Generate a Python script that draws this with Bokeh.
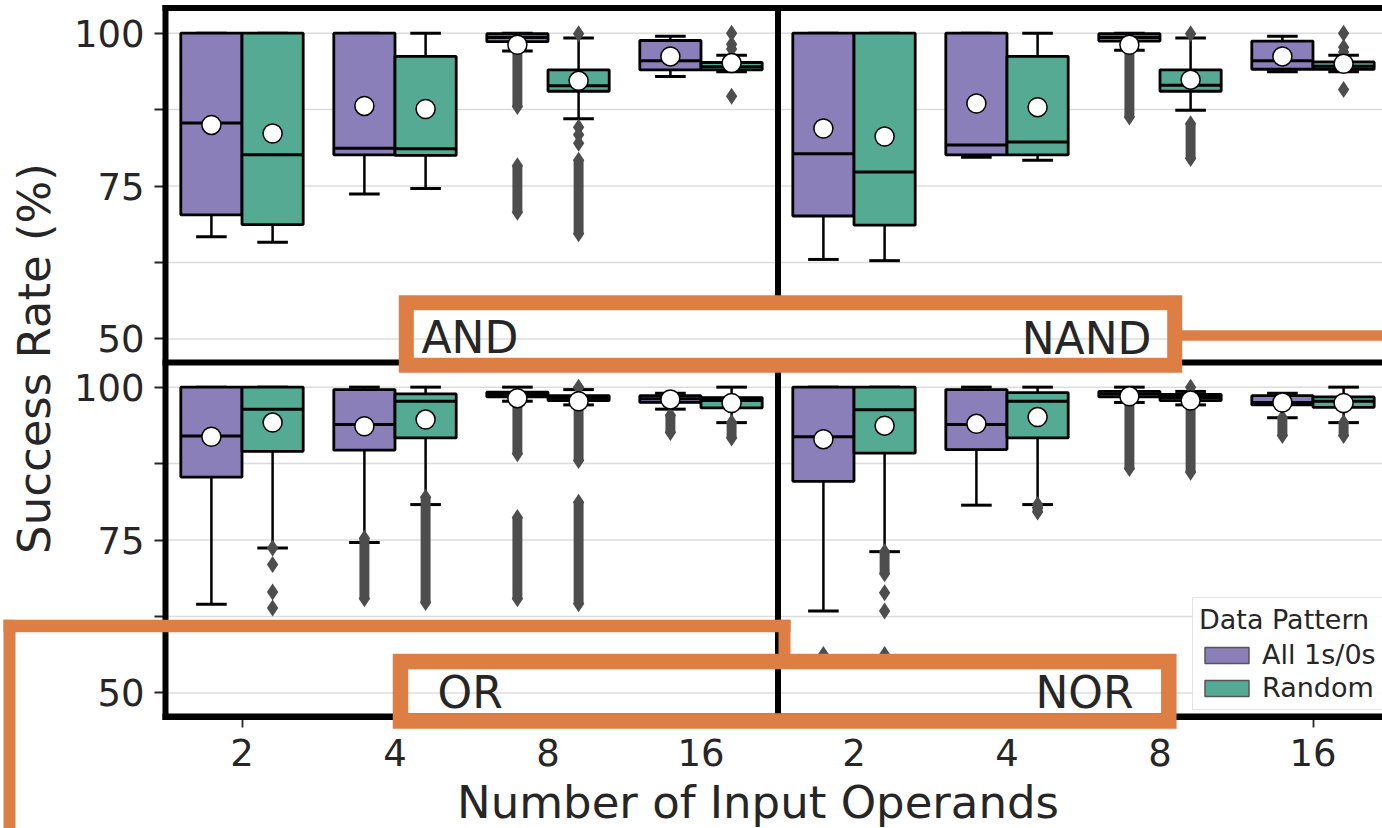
import math
from bokeh.plotting import figure
from bokeh.models import (Range1d, FixedTicker, BoxAnnotation, Legend, LegendItem,
                          ColumnDataSource, Label, LinearAxis)
from bokeh.transform import dodge
from bokeh.embed import file_html
from bokeh.resources import INLINE

# ---------------- data ----------------
operands = ["2", "4", "8", "16"]
patterns = ["All 1s/0s", "Random"]
gates = ["AND", "NAND", "OR", "NOR"]

# box statistics per operand count (q1, median, q3, whisker low/high, mean)
and_all = dict(q1=[70.3, 80.1, 98.6, 94.0], med=[85.3, 81.2, 99.3, 95.5], q3=[100, 100, 99.9, 98.8],
               lo=[66.7, 73.7, 97.1, 92.9], hi=[100, 100, 100, 99.5], mean=[85.0, 88.1, 98.1, 96.2])
and_rand = dict(q1=[68.7, 80.0, 90.5, 94.0], med=[80.1, 81.1, 91.4, 94.5], q3=[100, 96.2, 94.0, 95.2],
                lo=[65.8, 74.6, 86.0, 93.7], hi=[100, 100, 99.2, 96.4], mean=[83.6, 87.6, 92.2, 95.1])
nand_all = dict(q1=[70.1, 80.1, 98.7, 94.1], med=[80.3, 81.7, 99.3, 95.5], q3=[100, 100, 99.9, 98.7],
                lo=[63.0, 79.7, 97.2, 93.7], hi=[100, 100, 100, 99.5], mean=[84.4, 88.5, 98.1, 96.2])
nand_rand = dict(q1=[68.6, 80.1, 90.5, 94.1], med=[77.3, 82.2, 91.5, 94.6], q3=[100, 96.2, 94.0, 95.3],
                 lo=[62.8, 79.2, 87.4, 93.7], hi=[100, 100, 99.2, 96.4], mean=[83.1, 87.9, 92.4, 95.0])
or_all = dict(q1=[85.3, 89.7, 98.4, 97.5], med=[92.0, 93.9, 98.8, 98.1], q3=[100, 99.6, 99.2, 98.6],
              lo=[64.5, 74.6, 97.7, 96.4], hi=[100, 100, 100, 99.0], mean=[91.9, 93.6, 98.2, 98.0])
or_rand = dict(q1=[89.5, 91.7, 97.8, 96.6], med=[96.4, 97.7, 98.2, 97.8], q3=[100, 98.9, 98.6, 98.3],
               lo=[73.7, 80.8, 97.1, 94.2], hi=[100, 100, 99.6, 100], mean=[94.2, 94.7, 97.7, 97.4])
nor_all = dict(q1=[84.6, 89.8, 98.4, 97.1], med=[91.9, 93.9, 98.9, 97.5], q3=[100, 99.6, 99.3, 98.6],
               lo=[63.4, 80.7, 97.5, 95.0], hi=[100, 100, 100, 99.0], mean=[91.5, 94.0, 98.5, 97.5])
nor_rand = dict(q1=[89.2, 91.7, 97.8, 96.7], med=[96.3, 97.7, 98.3, 97.7], q3=[100, 99.1, 98.8, 98.4],
                lo=[73.1, 80.8, 97.1, 94.2], hi=[100, 100, 99.3, 100], mean=[93.7, 95.1, 97.8, 97.4])

# single outliers (operand, value) and dense outlier runs (operand, low, high)
and_all_pts = []
and_all_runs = [("8", 88.0, 97.0), ("8", 70.7, 78.3)]
and_rand_pts = [("8", 99.9), ("8", 84.6), ("8", 83.4), ("8", 82.0), ("16", 100.0), ("16", 98.2), ("16", 97.4), ("16", 89.7)]
and_rand_runs = [("8", 67.2, 79.2)]
nand_all_pts = []
nand_all_runs = [("8", 86.3, 97.0)]
nand_rand_pts = [("8", 99.9), ("16", 100.0), ("16", 97.7), ("16", 96.9), ("16", 90.8)]
nand_rand_runs = [("8", 79.5, 85.2)]
or_all_pts = []
or_all_runs = [("4", 65.4, 75.3), ("8", 89.1, 97.5), ("8", 65.4, 78.7), ("16", 92.6, 95.4)]
or_rand_pts = [("2", 73.7), ("2", 71.0), ("2", 66.5), ("2", 63.9), ("8", 100.0)]
or_rand_runs = [("4", 64.8, 82.0), ("8", 88.0, 97.0), ("8", 64.6, 81.2), ("16", 91.7, 94.2)]
nor_all_pts = [("2", 56.3)]
nor_all_runs = [("8", 86.7, 97.5), ("16", 92.1, 95.0)]
nor_rand_pts = [("2", 66.4), ("2", 63.4), ("2", 56.3), ("4", 80.3), ("8", 100.0)]
nor_rand_runs = [("2", 69.5, 73.1), ("4", 79.6, 80.8), ("8", 86.1, 97.0), ("16", 92.1, 94.2)]

series = [
    ("AND", "All 1s/0s", and_all, and_all_pts, and_all_runs),
    ("AND", "Random", and_rand, and_rand_pts, and_rand_runs),
    ("NAND", "All 1s/0s", nand_all, nand_all_pts, nand_all_runs),
    ("NAND", "Random", nand_rand, nand_rand_pts, nand_rand_runs),
    ("OR", "All 1s/0s", or_all, or_all_pts, or_all_runs),
    ("OR", "Random", or_rand, or_rand_pts, or_rand_runs),
    ("NOR", "All 1s/0s", nor_all, nor_all_pts, nor_all_runs),
    ("NOR", "Random", nor_rand, nor_rand_pts, nor_rand_runs),
]

y_ticks = [50, 75, 100]
y_minor = [62.5, 87.5]

# ---------------- style / layout ----------------
PURPLE = "#8a7fb8"
GREEN = "#55aa94"
OUTC = "#4d4d4d"
INK = "#262626"
ORANGE = "#dd7f45"
FONT = "DejaVu Sans"

W, H = 1382, 828                  # canvas occupies the whole window
PANEL_LEFT = 165                  # canvas x of the panels' left edge
PANEL_TOP = 8                     # canvas y of the upper panels' top edge
PANEL_BOTTOM = 716                # canvas y of the lower panels' bottom edge
PX_PER_CAT = 153.0
ylo, yhi = 46.15, 104.03          # per-panel y limits
yspan = yhi - ylo
PX_PER_Y = (PANEL_BOTTOM - PANEL_TOP) / (2 * yspan)
n_cat = len(operands)

x0 = -0.5 - PANEL_LEFT / PX_PER_CAT
x1 = x0 + W / PX_PER_CAT
y0 = ylo - (H - PANEL_BOTTOM) / PX_PER_Y
y1 = ylo + PANEL_BOTTOM / PX_PER_Y

p = figure(width=W, height=H, output_backend="svg", toolbar_location=None,
           x_range=Range1d(x0, x1), y_range=Range1d(y0, y1),
           min_border=0, min_border_left=0, min_border_right=0, min_border_top=0, min_border_bottom=0)
p.extra_x_ranges = {"right": Range1d(x0 - n_cat, x1 - n_cat), "px": Range1d(0, W)}
p.extra_y_ranges = {"top": Range1d(y0 - yspan, y1 - yspan), "py": Range1d(H, 0)}
p.outline_line_color = None
p.background_fill_color = "white"
p.border_fill_color = "white"
p.xaxis.visible = False
p.yaxis.visible = False
p.xgrid.visible = False
p.ygrid.visible = False

panel_ranges = {"AND": ("default", "top"), "NAND": ("right", "top"),
                "OR": ("default", "default"), "NOR": ("right", "default")}
pattern_style = {"All 1s/0s": (PURPLE, -0.2), "Random": (GREEN, 0.2)}

# grid lines inside the panels
grid_src = ColumnDataSource(dict(y=sorted(y_ticks + y_minor)))
for yr in ("default", "top"):
    p.segment(x0=-0.5, x1=2 * n_cat - 0.5, y0="y", y1="y", source=grid_src, line_color="#dcdcdc",
              line_width=1.5, y_range_name=yr, level="underlay")

# boxes, whiskers, caps, medians
box_renderers = {}
for gate, pat, st, pts, runs in series:
    xr, yr = panel_ranges[gate]
    color, off = pattern_style[pat]
    kw = dict(x_range_name=xr, y_range_name=yr)
    src = ColumnDataSource(dict(x=list(range(n_cat)), **st))
    c = dodge("x", off)
    p.segment(x0=c, x1=c, y0="q3", y1="hi", source=src, line_color="black", line_width=2.5, **kw)
    p.segment(x0=c, x1=c, y0="q1", y1="lo", source=src, line_color="black", line_width=2.5, **kw)
    for end in ("hi", "lo"):
        p.segment(x0=dodge("x", off - 0.1), x1=dodge("x", off + 0.1), y0=end, y1=end, source=src,
                  line_color="black", line_width=3, **kw)
    # box body (fill, thin grey edge as used by the legend) then the black box outline
    r = p.vbar(x=c, width=0.4, bottom="q1", top="q3", source=src, fill_color=color,
               line_color="#555555", line_width=1.5, **kw)
    box_renderers.setdefault(pat, r)
    p.vbar(x=c, width=0.4, bottom="q1", top="q3", source=src, fill_color=None,
           line_color="black", line_width=2.8, **kw)
    p.segment(x0=dodge("x", off - 0.2), x1=dodge("x", off + 0.2), y0="med", y1="med", source=src,
              line_color="black", line_width=3, **kw)

# outliers
for gate, pat, st, pts, runs in series:
    xr, yr = panel_ranges[gate]
    color, off = pattern_style[pat]
    kw = dict(x_range_name=xr, y_range_name=yr)
    c = dodge("x", off)
    if runs:
        rs = ColumnDataSource(dict(x=[operands.index(q[0]) for q in runs],
                                   lo=[q[1] for q in runs], hi=[q[2] for q in runs]))
        p.vbar(x=c, width=0.065, bottom="lo", top="hi", source=rs, fill_color=OUTC, line_color=None, **kw)
        for end in ("lo", "hi"):
            p.scatter(x=c, y=end, source=rs, marker="diamond", size=17, fill_color=OUTC, line_color=None, **kw)
    if pts:
        ps = ColumnDataSource(dict(x=[operands.index(q[0]) for q in pts], y=[q[1] for q in pts]))
        p.scatter(x=c, y="y", source=ps, marker="diamond", size=17, fill_color=OUTC, line_color=None, **kw)

# means
for gate, pat, st, pts, runs in series:
    xr, yr = panel_ranges[gate]
    color, off = pattern_style[pat]
    src = ColumnDataSource(dict(x=list(range(n_cat)), mean=st["mean"]))
    p.scatter(x=dodge("x", off), y="mean", source=src, marker="circle", size=19, fill_color="white",
              line_color="black", line_width=1.5, x_range_name=xr, y_range_name=yr)


def style_axis(ax, standoff):
    ax.axis_line_color = None
    ax.major_tick_line_color = INK
    ax.major_tick_line_width = 1.8
    ax.major_tick_out = 11
    ax.major_tick_in = 0
    ax.minor_tick_line_color = INK
    ax.minor_tick_line_width = 1.8
    ax.minor_tick_out = 11
    ax.minor_tick_in = 0
    ax.major_label_text_font = FONT
    ax.major_label_text_font_size = "37px"
    ax.major_label_text_color = INK
    ax.major_label_standoff = standoff


# y axes for the upper and lower rows, x axes for the left and right columns
for yr in ("default", "top"):
    ax = LinearAxis(y_range_name=yr, fixed_location=-0.5, bounds=(ylo, yhi),
                    ticker=FixedTicker(ticks=y_ticks, minor_ticks=y_minor))
    style_axis(ax, 10)
    p.add_layout(ax, "left")
for xr in ("default", "right"):
    ax = LinearAxis(x_range_name=xr, fixed_location=ylo, bounds=(-0.5, n_cat - 0.5),
                    ticker=FixedTicker(ticks=list(range(n_cat))),
                    major_label_overrides={i: o for i, o in enumerate(operands)})
    style_axis(ax, 11)
    p.add_layout(ax, "below")

pxr = dict(x_range_name="px", y_range_name="py")
MID = 0.345  # baseline lies this many font sizes below a text's middle

# axis titles
p.add_layout(Label(x=757.5, y=818 - MID * 45, text="Number of Input Operands", text_align="center",
                   text_baseline="middle", text_font=FONT, text_font_size="45px",
                   text_color=INK, **pxr))
p.add_layout(Label(x=50 - MID * 45, y=358, text="Success Rate (%)", angle=math.pi / 2, text_align="center",
                   text_baseline="middle", text_font=FONT, text_font_size="45px",
                   text_color=INK, **pxr))

# spines (thick black frame lines; the right edge falls outside the crop)
for l, r, t, b in [(162, 1400, 4.5, 10.5), (162, 168, 4.5, 719.5), (162, 1400, 713, 719.5),
                   (162, 1400, 359, 365), (774.5, 780.5, 4.5, 304), (774.5, 780.5, 363, 719.5)]:
    p.add_layout(BoxAnnotation(left=l, right=r, top=t, bottom=b, fill_color="black", fill_alpha=1,
                               line_color=None, **pxr))

# gate labels
for txt, x, y, align in [("AND", 421, 352.3, "left"), ("NAND", 1151, 353, "right"),
                         ("OR", 437, 706.7, "left"), ("NOR", 1133, 706.7, "right")]:
    p.add_layout(Label(x=x, y=y - MID * 44, text=txt, text_align=align, text_baseline="middle",
                       text_font=FONT, text_font_size="44px", text_color=INK, **pxr))

# orange highlight overlays: two framed boxes ...
for l, r, t, b, lw in [(405.8, 1174.2, 302.3, 364.8, 15), (400, 1168.3, 661, 720.5, 15.5)]:
    p.add_layout(BoxAnnotation(left=l, right=r, top=t, bottom=b, fill_alpha=0, fill_color=None,
                               line_color=ORANGE, line_alpha=1, line_width=lw, line_join="miter", **pxr))
# ... and solid orange bars (connector on the right, open bracket at the lower left)
for l, r, t, b in [(1174, 1400, 329.7, 340.3), (3, 790, 619.3, 631.7), (3, 15, 619.3, 900),
                   (778, 790, 619.3, 660)]:
    p.add_layout(BoxAnnotation(left=l, right=r, top=t, bottom=b, fill_color=ORANGE,
                               fill_alpha=1, line_color=None, **pxr))

# legend
legend = Legend(items=[LegendItem(label=pat, renderers=[box_renderers[pat]]) for pat in patterns],
                title="Data Pattern", location=(1192, H - 710),
                title_text_font=FONT, title_text_font_size="27px", title_text_font_style="normal",
                title_text_color=INK, label_text_font=FONT, label_text_font_size="27px",
                label_text_color=INK, glyph_width=55, glyph_height=20, label_standoff=8,
                padding=6, spacing=2, margin=0, title_standoff=4,
                border_line_color="#c8c8c8", border_line_width=1.5,
                background_fill_color="white", background_fill_alpha=0.9)
p.add_layout(legend)

open("out.html", "w").write(file_html(p, INLINE))
